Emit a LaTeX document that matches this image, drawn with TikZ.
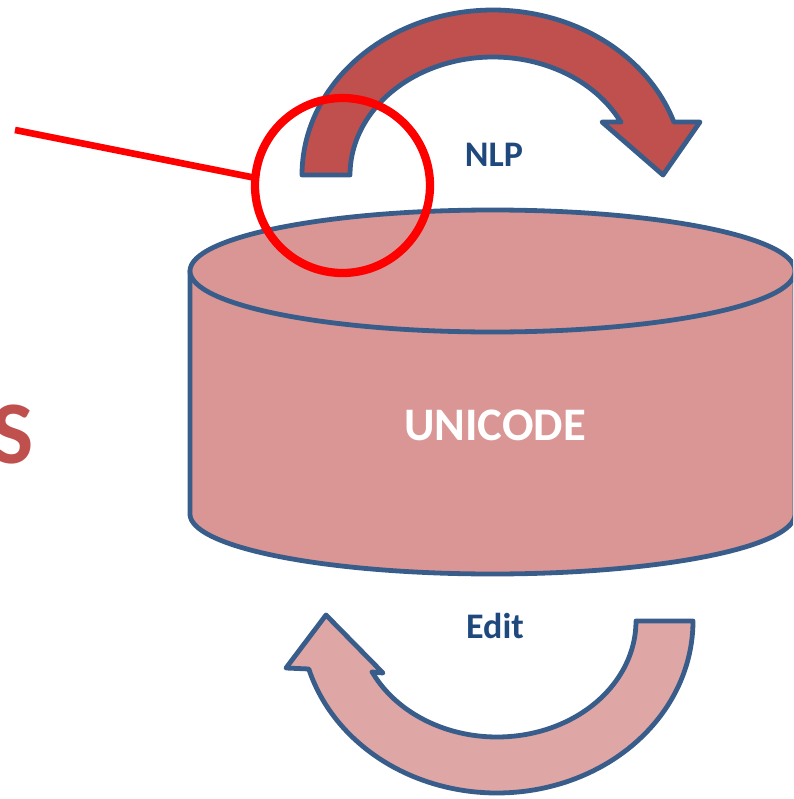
\documentclass[tikz,border=0pt]{standalone}
\usepackage{fontspec}
\setmainfont{Carlito}
\definecolor{outl}{HTML}{385D8A}
\definecolor{darkred}{HTML}{C0504D}
\definecolor{cylfill}{HTML}{D99694}
\definecolor{lightred}{HTML}{DEA6A5}
\definecolor{labblue}{HTML}{1F497D}
\tikzset{
  shapeline/.style={draw=outl, line width=3.6pt, line join=round},
  lab/.style={text=labblue, font=\fontsize{27}{27}\selectfont\bfseries, inner sep=0pt},
}
\begin{document}
\begin{tikzpicture}[x=0.75pt, y=-0.75pt]
\useasboundingbox (0,0) rectangle (793,799);
\clip (0,0) rectangle (793,799);
% top arrow (NLP)
\path[shapeline, fill=darkred]
  plot[domain=180:341.3, samples=90] ({493+191*cos(\x)},{175+165*sin(\x)})
  -- (700,122) -- (663,175) -- (602,122) -- (621,122)
  -- plot[domain=333.3:180, samples=90] ({493+143*cos(\x)},{175+118*sin(\x)})
  -- cycle;
% bottom arrow (Edit)
\path[shapeline, fill=lightred]
  plot[domain=0:163.8, samples=90] ({497+196*cos(\x)},{621+172*sin(\x)})
  -- (286,668) -- (326,615) -- (383,673) -- (372,672)
  -- plot[domain=153.9:0, samples=90] ({497+139*cos(\x)},{621+116*sin(\x)})
  -- cycle;
% cylinder
\path[shapeline, fill=cylfill]
  (190,271) -- (190,514)
  -- plot[domain=180:0, samples=120] ({492.5+302.5*cos(\x)},{514+60*sin(\x)})
  -- (795,271) -- cycle;
\path[shapeline, fill=cylfill] (492.5,271) ellipse [x radius=302.5, y radius=61];
% labels
\node[text=white, font=\fontsize{35}{35}\selectfont\bfseries, inner sep=0pt] (unicode) at (495,425) {UNICODE};
\node[lab] (nlp) at (494,155) {NLP};
\node[lab] (edit) at (495,626) {Edit};
\node[text=darkred, font=\fontsize{67}{67}\selectfont\bfseries, inner sep=0pt, anchor=base east] (s) at (34,463) {S};
% red highlight
\node[draw=red, line width=6.2pt, circle, minimum size=131.25pt, inner sep=0pt, outer sep=0pt] (ring) at (342.5,185.5) {};
\coordinate (lstart) at (15,130);
\draw[red, line width=5pt] (lstart) -- (ring.175);
\end{tikzpicture}
\end{document}
